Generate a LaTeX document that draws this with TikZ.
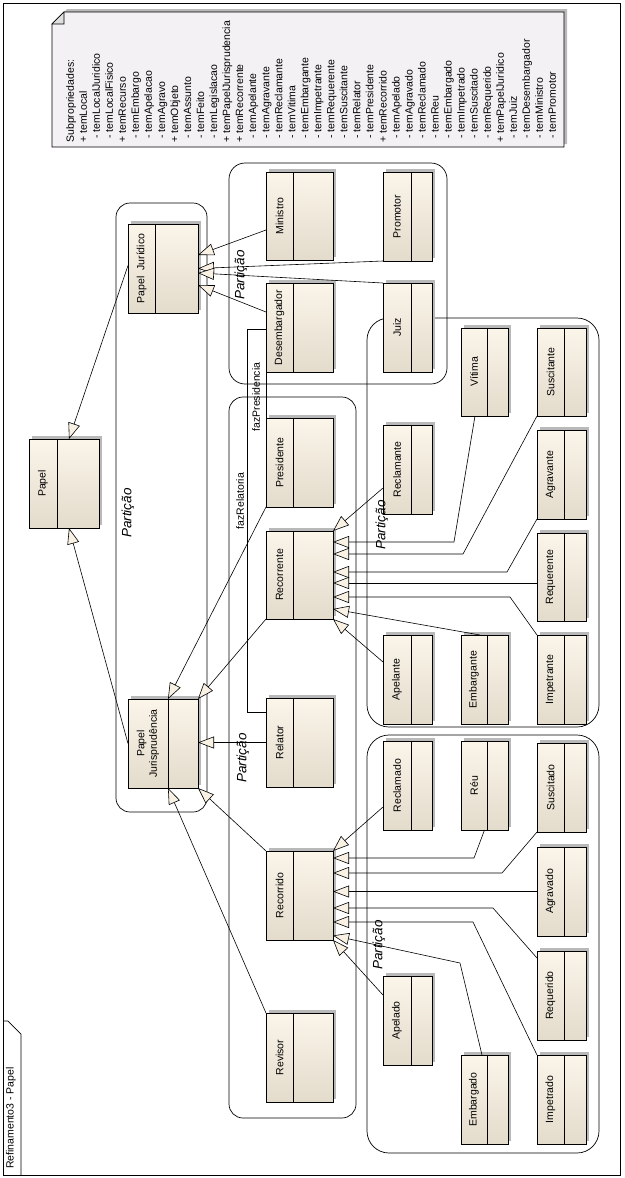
\documentclass[tikz,border=0pt]{standalone}
\usepackage{fontspec}
\setmainfont{Liberation Sans}
\usetikzlibrary{arrows.meta,calc}
\definecolor{boxtop}{HTML}{FBF5EA}
\definecolor{boxbot}{HTML}{E3DBCB}
\definecolor{headfill}{HTML}{F8F1E4}
\definecolor{notefill}{HTML}{F4F1F5}
\definecolor{shadowc}{HTML}{B9B9B9}
\newcommand\umlclass[7]{%
  \fill[shadowc] (#2+3,#3-3) rectangle (#4+3,#5-3);
  \node[classbox, minimum width={(#4-#2)*1pt}, minimum height={(#5-#3)*1pt}] (#1) at ({(#2+#4)/2},{(#3+#5)/2}) {};
  \draw[line width=0.8pt] (#6,#3) -- (#6,#5);
  \node[clabel] (#1-l) at ({(#2+#6)/2},{(#3+#5)/2}) {#7};
}
\begin{document}
\begin{tikzpicture}[x=1pt,y=-1pt,line width=0.7pt,
  classbox/.style={draw=black, top color=boxtop, bottom color=boxbot, inner sep=0pt, outer sep=0pt, line width=0.8pt},
  clabel/.style={rotate=90, font=\fontsize{10.5}{12.5}\selectfont, align=center, inner sep=0pt},
  gen/.style={draw=black, line width=0.6pt, line join=miter, -{Triangle[length=16pt,width=12pt,fill=headfill]}},
  assoc/.style={draw=black, line width=0.6pt},
  partition/.style={draw=black, line width=0.7pt},
  plabel/.style={rotate=90, font=\fontsize{13.5}{16}\selectfont\itshape, inner sep=0pt},
  alabel/.style={rotate=90, font=\fontsize{10.5}{12.5}\selectfont, inner sep=0pt},
  notetxt/.style={rotate=90, anchor=base west, font=\fontsize{10.5}{12.5}\selectfont, inner sep=0pt}]
\useasboundingbox (0,0) rectangle (624,1178);
\fill[white] (0,0) rectangle (624,1178);
% frame and title tab
\draw[line width=0.8pt] (3,3) rectangle (620,1175);
\draw[line width=0.7pt] (3,1021) -- (8,1021) -- (21,1034) -- (21,1175);
\node[alabel] (title) at (11,1118) {Refinamento3 - Papel};
% note
\fill[shadowc] (55,21) -- (67,9) -- (567,9) -- (567,144) -- (55,144) -- cycle;
\draw[fill=notefill, line width=0.8pt] (52,24) -- (64,12) -- (564,12) -- (564,147) -- (52,147) -- cycle;
\draw[fill=gray!25, line width=0.6pt] (52,24) -- (64,24) -- (64,12) -- cycle;
\foreach \t/\o [count=\i from 0] in {Subpropriedades:/0, + temLocal/0, - temLocalJuridico/4, - temLocalFisico/4,
  + temRecurso/0, - temEmbargo/4, - temApelacao/4, - temAgravo/4, + temObjeto/0, - temAssunto/4, - temFeito/4,
  - temLegislacao/4, + temPapelJurisprudencia/0, + temRecorrente/0, - temApelante/4, - temAgravante/4,
  - temReclamante/4, - temVitima/4, - temEmbargante/4, - temImpetrante/4, - temRequerente/4, - temSuscitante/4,
  - temRelator/4, - temPresidente/4, + temRecorrido/0, - temApelado/4, - temAgravado/4, - temReclamado/4,
  - temReu/4, - temEmbargado/4, - temImpetrado/4, - temSuscitado/4, - temRequerido/4, + temPapelJuridico/0,
  - temJuiz/4, - temDesembargador/4, - temMinistro/4, - temPromotor/4}
  \node[notetxt] (note\i) at ({73.8+13.03*\i},{143-\o}) {\t};
% partitions
\draw[partition, rounded corners=14pt] (116,203) rectangle (207,812);
\draw[partition, rounded corners=16pt] (229,163) rectangle (447,384);
\draw[partition, rounded corners=14pt] (229,397) rectangle (356,1118);
\draw[partition, rounded corners=22pt] (367,318) rectangle (599,727);
\draw[partition, rounded corners=22pt] (367,735) rectangle (599,1153);
% classes
\umlclass{papel}{29}{439}{99}{528}{57}{Papel}
\umlclass{pj}{128}{224}{198}{313}{155}{Papel\ \ Jurídico}
\umlclass{pjur}{128}{699}{198}{788}{168}{Papel\\Jurisprudência}
\umlclass{ministro}{266}{172}{333}{260}{293}{Ministro}
\umlclass{promotor}{383}{172}{432}{261}{411}{Promotor}
\umlclass{desemb}{266}{283}{333}{372}{293}{Desembargador}
\umlclass{juiz}{383}{283}{432}{372}{411}{Juiz}
\umlclass{presid}{266}{418}{333}{507}{293}{Presidente}
\umlclass{recte}{266}{531}{333}{619}{293}{Recorrente}
\umlclass{relator}{266}{698}{333}{787}{293}{Relator}
\umlclass{rcdo}{266}{851}{333}{940}{293}{Recorrido}
\umlclass{revisor}{266}{1013}{333}{1102}{293}{Revisor}
\umlclass{vitima}{461}{328}{508}{416}{487}{Vítima}
\umlclass{suscte}{537}{328}{586}{416}{564}{Suscitante}
\umlclass{reclte}{383}{425}{432}{514}{411}{Reclamante}
\umlclass{agravte}{537}{430}{586}{519}{564}{Agravante}
\umlclass{requerte}{537}{533}{586}{621}{564}{Requerente}
\umlclass{apelte}{383}{635}{432}{724}{411}{Apelante}
\umlclass{embargte}{461}{635}{508}{724}{487}{Embargante}
\umlclass{impetrte}{537}{635}{586}{724}{564}{Impetrante}
\umlclass{reclmdo}{383}{741}{432}{830}{411}{Reclamado}
\umlclass{reu}{461}{741}{508}{830}{487}{Réu}
\umlclass{suscdo}{537}{743}{586}{832}{564}{Suscitado}
\umlclass{agravdo}{537}{847}{586}{936}{564}{Agravado}
\umlclass{reqdo}{537}{951}{586}{1040}{564}{Requerido}
\umlclass{apeldo}{383}{976}{432}{1065}{411}{Apelado}
\umlclass{embargdo}{461}{1055}{508}{1144}{487}{Embargado}
\umlclass{impetdo}{537}{1055}{586}{1144}{564}{Impetrado}
% generalizations to Papel
\draw[gen] ([yshift=3pt]pj.west) -- ([xshift=5pt]papel.north);
\draw[gen] (pjur.west) -- ([xshift=5pt]papel.south);
% to Papel Juridico
\draw[gen] ([yshift=-14pt]ministro.west) -- ([yshift=13.5pt]pj.east);
\draw[gen] (promotor.south west) -- (pj.east);
\draw[gen] (juiz.north west) -- ([yshift=-4.5pt]pj.east);
\draw[gen] ([yshift=15.5pt]desemb.west) -- ([yshift=-16.5pt]pj.east);
% to Papel Jurisprudencia
\draw[gen] (presid.south west) -- ([xshift=5pt]pjur.north);
\draw[gen] (recte.south west) -- (pjur.north east);
\draw[gen] (relator.west) -- (relator.west -| pjur.east);
\draw[gen] (rcdo.north west) -- (pjur.south east);
\draw[gen] (revisor.north west) -- ([xshift=5pt]pjur.south);
% to Recorrente
\draw[gen] ([yshift=-18.5pt]reclte.west) -- (recte.north east);
\draw[gen] ([xshift=-9.5pt]vitima.south) -- (454,542) -- ([yshift=33pt]recte.east);
\draw[gen] (suscte.south west) -- (463,554) -- ([yshift=21pt]recte.east);
\draw[gen] (agravte.south west) -- (507,572) -- ([yshift=3pt]recte.east);
\draw[gen] ([yshift=-6pt]requerte.west) -- ([yshift=-8pt]recte.east);
\draw[gen] (impetrte.north west) -- (510,597) -- ([yshift=-22pt]recte.east);
\draw[gen] ([xshift=-4.5pt]embargte.north) -- ([yshift=-34pt]recte.east);
\draw[gen] ([yshift=17.5pt]apelte.west) -- (recte.south east);
% to Recorrido
\draw[gen] ([yshift=-21.5pt]reclmdo.west) -- (rcdo.north east);
\draw[gen] (reu.south) -- (474,858) -- ([yshift=37.5pt]rcdo.east);
\draw[gen] (suscdo.south west) -- (502,873) -- ([yshift=22.5pt]rcdo.east);
\draw[gen] (agravdo.west) -- ([yshift=4pt]rcdo.east);
\draw[gen] ([yshift=37.5pt]reqdo.west) -- (493,908) -- ([yshift=-12.5pt]rcdo.east);
\draw[gen] (impetdo.north west) -- (473,922) -- ([yshift=-26.5pt]rcdo.east);
\draw[gen] ([xshift=-2.5pt]embargdo.north) -- (460,963) -- ([yshift=-40pt]rcdo.east);
\draw[gen] ([yshift=25.5pt]apeldo.west) -- (rcdo.south east);
% associations
\draw[assoc] (desemb.south west) -- (presid.north west);
\node[alabel] (lblpres) at (256,397) {fazPresidencia};
\draw[assoc] ([yshift=-1.5pt]desemb.west) -- (247,329) |- ([yshift=30.5pt]relator.west);
\node[alabel] (lblrel) at (240,501) {fazRelatoria};
% partition labels
\node[plabel] (pl1) at (128,513) {Partição};
\node[plabel] (pl2) at (241,275) {Partição};
\node[plabel] (pl3) at (243,758) {Partição};
\node[plabel] (pl4) at (382,525) {Partição};
\node[plabel] (pl5) at (379,945) {Partição};
\end{tikzpicture}
\end{document}
